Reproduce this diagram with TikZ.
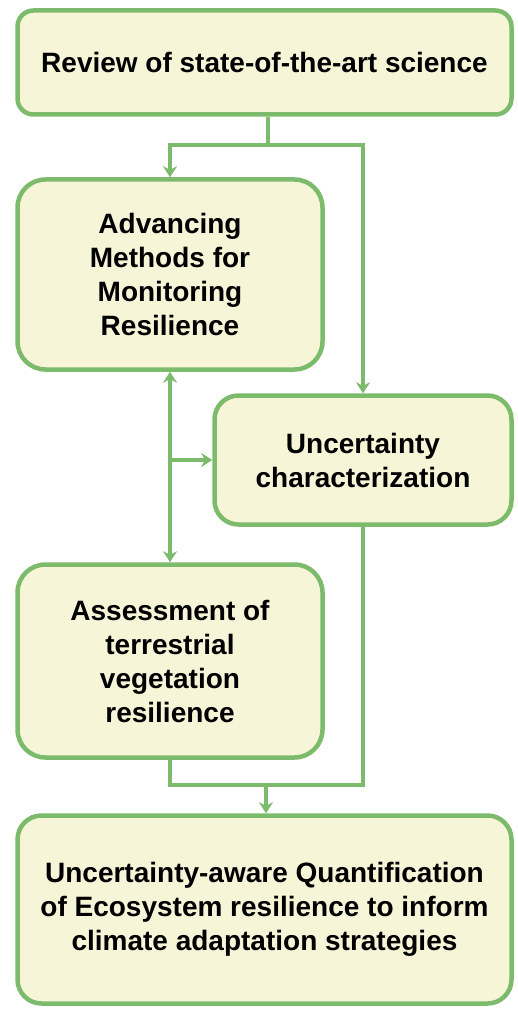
\documentclass[tikz,border=0pt]{standalone}
\usepackage{fontspec}
\setmainfont{Liberation Sans}
\usetikzlibrary{arrows.meta}
\definecolor{boxgreen}{HTML}{7DBB6C}
\definecolor{boxfill}{HTML}{F7F5D8}

\begin{document}
\begin{tikzpicture}[x=1pt,y=-1pt, line width=4.5pt, draw=boxgreen,
	box/.style={
		draw=boxgreen,
		fill=boxfill,
		align=center,
		inner sep=0pt,
		rounded corners=28pt,
		font=\bfseries\fontsize{28}{34}\selectfont
	},
	conn/.style={boxgreen, line width=4.5pt},
	arr/.style={conn, -{Stealth[length=11pt,width=14pt]}},
	darr/.style={conn, {Stealth[length=11pt,width=14pt]}-{Stealth[length=11pt,width=14pt]}}
	]
	\useasboundingbox (0,0) rectangle (517,1011);
	
	\node[box, minimum width=494pt, minimum height=104pt, rounded corners=16pt]
	(review) at (264.5,62.5) {Review of state-of-the-art science};
	\node[box, minimum width=305pt, minimum height=190pt]
	(adv) at (170,274.5) {Advancing\\Methods for\\Monitoring\\Resilience};
	\node[box, minimum width=297pt, minimum height=129pt, rounded corners=24pt]
	(unc) at (363,460) {Uncertainty\\characterization};
	\node[box, minimum width=305pt, minimum height=193pt]
	(assess) at (170,661) {Assessment of\\terrestrial\\vegetation\\resilience};
	\node[box, minimum width=494pt, minimum height=188pt, rounded corners=24pt]
	(final) at (264.5,909.5) {Uncertainty-aware Quantification\\of Ecosystem resilience to inform\\climate adaptation strategies};
	
	%Verzweigung oben
	\coordinate (split) at (268,145);
	\draw[conn] (review.south -| split) -- (split);
	\draw[arr] (split) -| (adv.north);
	\draw[arr] (split) -| (unc.north);
	
	%Mitte
	\draw[darr] (adv.south) -- (assess.north);
	\draw[arr] (adv.south |- unc.west) -- (unc.west);
	
	%Zusammenfuehrung unten
	\coordinate (merge) at (266,785);
	\draw[conn] (unc.south) |- (merge) -| (assess.south);
	\draw[arr] (merge) -- (final.north -| merge);
\end{tikzpicture}
\end{document}
